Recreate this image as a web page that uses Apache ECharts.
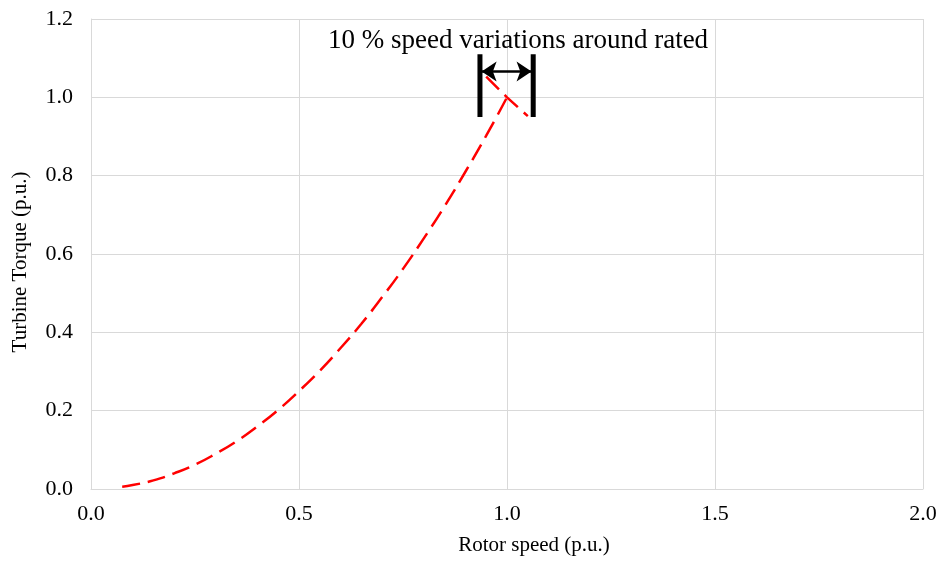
<!DOCTYPE html>
<html><head><meta charset="utf-8">
<script src="https://cdn.jsdelivr.net/npm/echarts@6/dist/echarts.min.js"></script>
<style>html,body{margin:0;padding:0;background:#fff}#c{width:943px;height:561px}</style>
</head><body><div id="c"></div>
<script>
// Torque curve
const speedA = [0.075,0.1,0.15,0.2,0.25,0.3,0.35,0.4,0.45,0.5,0.55,0.6,0.65,0.7,0.75,0.8,0.85,0.9,0.95,1.0];
const torqueA = [0.006,0.01,0.022,0.04,0.062,0.09,0.122,0.16,0.202,0.25,0.302,0.36,0.422,0.49,0.562,0.64,0.722,0.81,0.902,1.0];
// constant-power segment around rated
const speedB = [0.95,1.0,1.05];
const torqueB = [1.053,1.0,0.952];
// bracket for speed variation
const bracketX = [0.935,1.063];
const bracketY = [0.95,1.11];
const arrowY = 1.066;
const xTicks = [0,0.5,1.0,1.5,2.0];
const yTicks = [0,0.2,0.4,0.6,0.8,1.0,1.2];
const titleText = '10 % speed variations around rated';

const serif = 'Liberation Serif';
const chart = echarts.init(document.getElementById('c'));
const pairs = (xs, ys) => xs.map((x,i)=>[x,ys[i]]);
chart.setOption({
  animation:false,
  grid:{left:91,right:20,top:19,bottom:70,containLabel:false},
  title:{text:titleText,left:323,top:22,textStyle:{fontFamily:serif,fontSize:27,fontWeight:'normal',color:'#000'}},
  xAxis:{type:'value',min:xTicks[0],max:xTicks[xTicks.length-1],interval:0.5,
    name:'Rotor speed (p.u.)',nameLocation:'middle',nameGap:46,
    nameTextStyle:{fontFamily:serif,fontSize:21,color:'#000',padding:[0,0,0,54]},
    axisLine:{lineStyle:{color:'#d9d9d9'}},axisTick:{show:false},
    axisLabel:{fontFamily:serif,fontSize:22,color:'#000',margin:14,formatter:v=>v.toFixed(1)},
    splitLine:{show:true,lineStyle:{color:'#d9d9d9'}}},
  yAxis:{type:'value',min:yTicks[0],max:yTicks[yTicks.length-1],interval:0.2,
    name:'Turbine Torque (p.u.)',nameLocation:'middle',nameGap:60,
    nameTextStyle:{fontFamily:serif,fontSize:21,color:'#000',padding:[0,16,0,0]},
    axisLine:{show:true,lineStyle:{color:'#d9d9d9'}},axisTick:{show:false},
    axisLabel:{fontFamily:serif,fontSize:22,color:'#000',margin:18,formatter:v=>v.toFixed(1)},
    splitLine:{show:true,lineStyle:{color:'#d9d9d9'}}},
  series:[
    {type:'line',data:pairs(speedA,torqueA),smooth:true,showSymbol:false,
      lineStyle:{color:'#ff0000',width:2.5,type:[18,8]}},
    {type:'line',data:pairs(speedB,torqueB),showSymbol:false,
      lineStyle:{color:'#ff0000',width:2.5,type:[18,8]}},
    {type:'line',data:[[bracketX[0],bracketY[0]],[bracketX[0],bracketY[1]]],showSymbol:false,
      lineStyle:{color:'#000',width:5}},
    {type:'line',data:[[bracketX[1],bracketY[0]],[bracketX[1],bracketY[1]]],showSymbol:false,
      lineStyle:{color:'#000',width:5},
      markLine:{silent:true,symbol:['arrow','arrow'],symbolSize:[15,15],label:{show:false},
        lineStyle:{color:'#000',width:2.5,type:'solid'},
        data:[[{coord:[bracketX[0]+0.004,arrowY]},{coord:[bracketX[1]-0.004,arrowY]}]]}}
  ]
});
</script></body></html>
